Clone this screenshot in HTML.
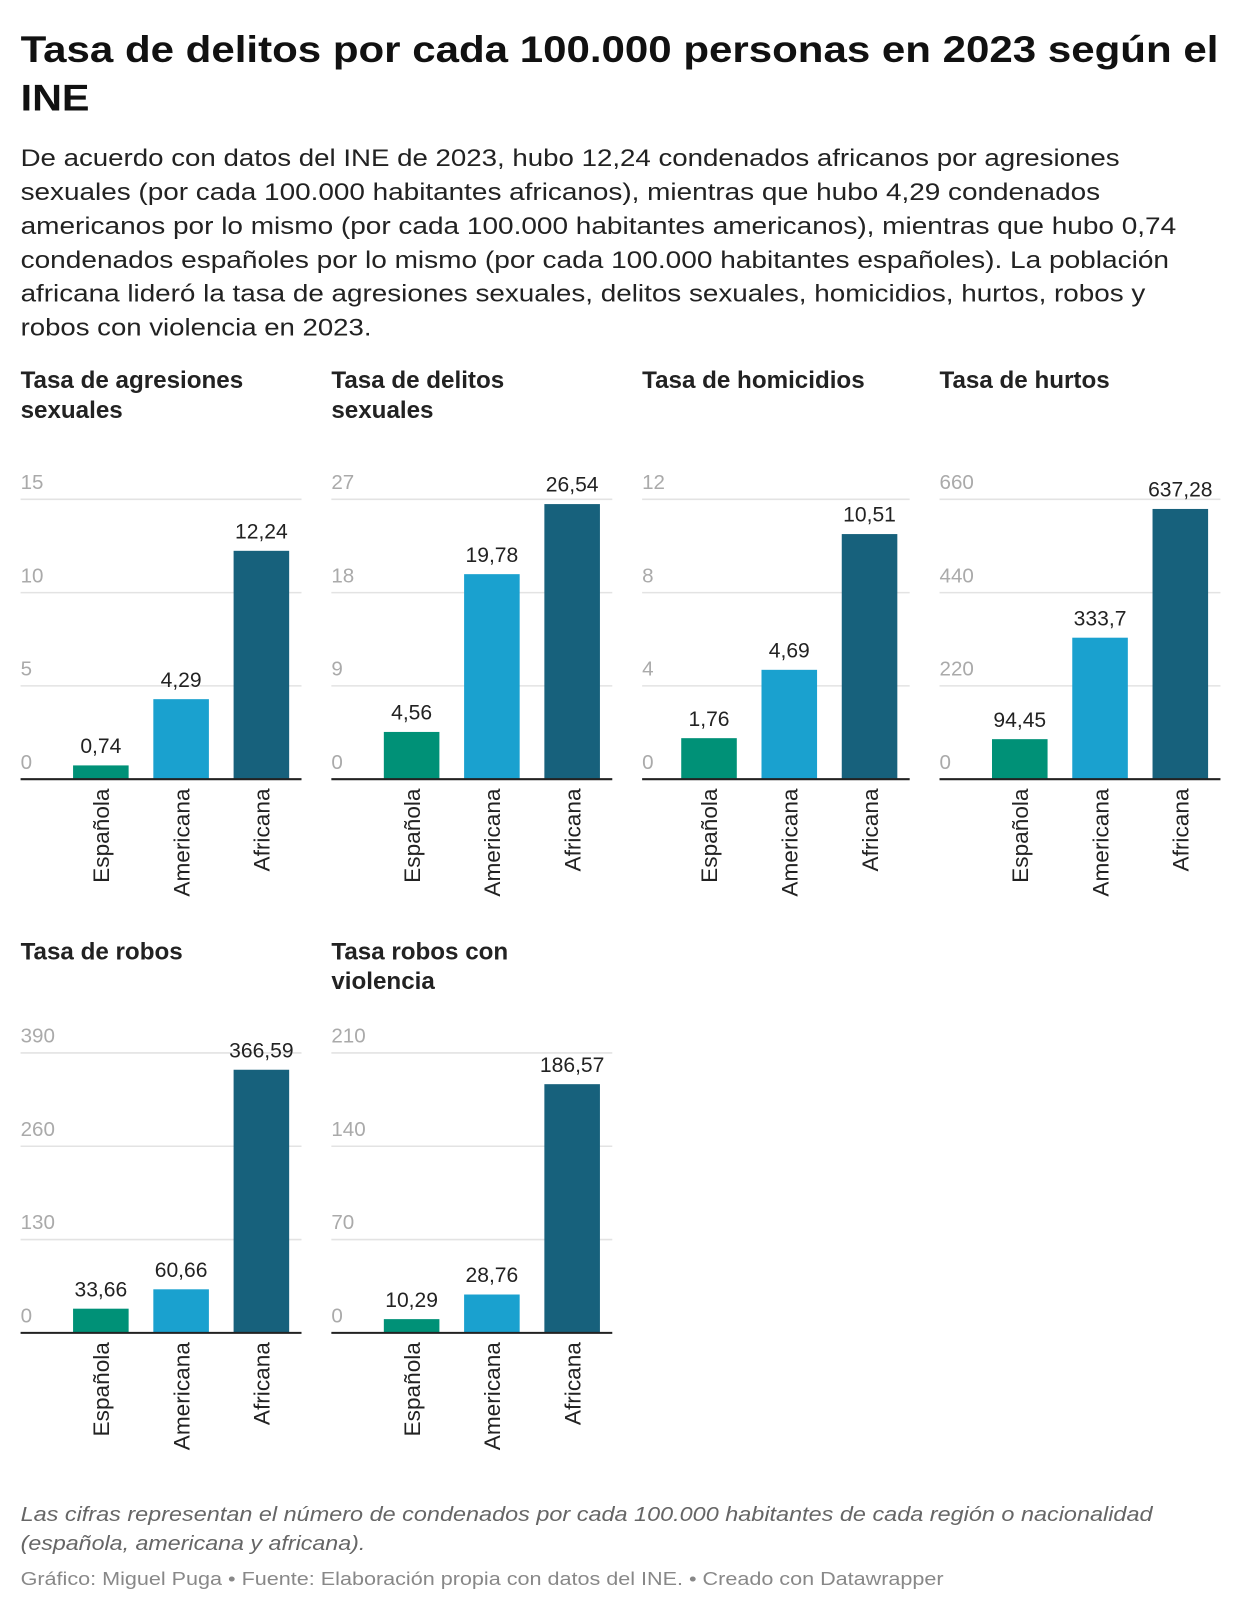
<!DOCTYPE html>
<html><head><meta charset="utf-8">
<style>
html,body{margin:0;padding:0;background:#fff;width:1240px;height:1614px;overflow:hidden}
svg{display:block;font-family:"Liberation Sans",sans-serif}
</style></head>
<body>
<svg id="root" width="1240" height="1614" viewBox="0 0 1205 1568" xmlns="http://www.w3.org/2000/svg">
<g>
<text x="20" y="60" font-size="36" font-weight="bold" fill="#111" textLength="1164" lengthAdjust="spacingAndGlyphs">Tasa de delitos por cada 100.000 personas en 2023 según el</text>
<text x="20" y="107" font-size="36" font-weight="bold" fill="#111" textLength="67" lengthAdjust="spacingAndGlyphs">INE</text>
<g font-size="23.5" fill="#222">
<text x="20" y="161" textLength="1068" lengthAdjust="spacingAndGlyphs">De acuerdo con datos del INE de 2023, hubo 12,24 condenados africanos por agresiones</text>
<text x="20" y="194" textLength="1049" lengthAdjust="spacingAndGlyphs">sexuales (por cada 100.000 habitantes africanos), mientras que hubo 4,29 condenados</text>
<text x="20" y="227" textLength="1123" lengthAdjust="spacingAndGlyphs">americanos por lo mismo (por cada 100.000 habitantes americanos), mientras que hubo 0,74</text>
<text x="20" y="260" textLength="1116" lengthAdjust="spacingAndGlyphs">condenados españoles por lo mismo (por cada 100.000 habitantes españoles). La población</text>
<text x="20" y="293" textLength="1093" lengthAdjust="spacingAndGlyphs">africana lideró la tasa de agresiones sexuales, delitos sexuales, homicidios, hurtos, robos y</text>
<text x="20" y="326" textLength="341" lengthAdjust="spacingAndGlyphs">robos con violencia en 2023.</text>
</g>
</g>
<g id="charts"></g>
<g>
<text x="20" y="1478" font-size="20" font-style="italic" fill="#666" textLength="1100" lengthAdjust="spacingAndGlyphs">Las cifras representan el número de condenados por cada 100.000 habitantes de cada región o nacionalidad</text>
<text x="20" y="1506" font-size="20" font-style="italic" fill="#666" textLength="335" lengthAdjust="spacingAndGlyphs">(española, americana y africana).</text>
<text x="20" y="1540" font-size="18" fill="#888" textLength="897" lengthAdjust="spacingAndGlyphs">Gráfico: Miguel Puga • Fuente: Elaboración propia con datos del INE. • Creado con Datawrapper</text>
</g>
</svg>
<script>
const categories = ["Española", "Americana", "Africana"];
const chartTitles = [["Tasa de agresiones","sexuales"],["Tasa de delitos","sexuales"],["Tasa de homicidios"],["Tasa de hurtos"],["Tasa de robos"],["Tasa robos con","violencia"]];
const valuesAgresiones = [0.74, 4.29, 12.24];
const valuesDelitos = [4.56, 19.78, 26.54];
const valuesHomicidios = [1.76, 4.69, 10.51];
const valuesHurtos = [94.45, 333.7, 637.28];
const valuesRobos = [33.66, 60.66, 366.59];
const valuesRobosViolencia = [10.29, 28.76, 186.57];
const ticksAgresiones = [0, 5, 10, 15];
const ticksDelitos = [0, 9, 18, 27];
const ticksHomicidios = [0, 4, 8, 12];
const ticksHurtos = [0, 220, 440, 660];
const ticksRobos = [0, 130, 260, 390];
const ticksRobosViolencia = [0, 70, 140, 210];

const series = [valuesAgresiones, valuesDelitos, valuesHomicidios, valuesHurtos, valuesRobos, valuesRobosViolencia];
const tickSets = [ticksAgresiones, ticksDelitos, ticksHomicidios, ticksHurtos, ticksRobos, ticksRobosViolencia];
const names = ["agresiones-sexuales","delitos-sexuales","homicidios","hurtos","robos","robos-violencia"];
const layout = [
  {x:20, w:273, off:51, row:0},{x:322, w:273, off:51, row:0},{x:624, w:260, off:38, row:0},
  {x:913, w:273, off:51, row:0},{x:20, w:273, off:51, row:1},{x:322, w:273, off:51, row:1}];
const rows = [{titleY:377, base:757, top:485},{titleY:932, base:1295, top:1023}];
const colors = ["#009177","#1aa1cf","#17617c"];
const NS = "http://www.w3.org/2000/svg";
const root = document.getElementById("charts");
function mk(tag, attrs, parent){const e=document.createElementNS(NS,tag);for(const k in attrs)e.setAttribute(k,attrs[k]);parent.appendChild(e);return e;}
function fmt(v){return String(v).replace(".",",");}

series.forEach((vals, i) => {
  const L = layout[i], R = rows[L.row], ticks = tickSets[i];
  const maxT = ticks[ticks.length-1];
  const y = v => R.base - (R.base - R.top) * v / maxT;
  const g = mk("g", {}, root);
  
  
  chartTitles[i].forEach((t, k) => {
    const tt = mk("text", {x:L.x, y:R.titleY + k*29, "font-size":23.5, "font-weight":"bold", fill:"#222"}, g);
    
    
    tt.textContent = t;
  });
  ticks.forEach(t => {
    if (t !== 0) {
      const gl = mk("line", {x1:L.x, x2:L.x+L.w, y1:y(t), y2:y(t), stroke:"#e3e3e3", "stroke-width":1.5}, g);
      
      
    }
    const tl = mk("text", {x:L.x, y:y(t)-10, "font-size":20, fill:"#aaa"}, g);
    
    
    tl.textContent = t;
  });
  vals.forEach((v, j) => {
    const bx = L.x + L.off + j*78, bw = 54, cx = bx + bw/2;
    const r = mk("rect", {x:bx, y:y(v), width:bw, height:R.base - y(v), fill:colors[j]}, g);
    
    
    const vl = mk("text", {x:cx, y:y(v)-12, "font-size":20.5, fill:"#222", "text-anchor":"middle"}, g);
    
    
    vl.textContent = fmt(v);
    const cl = mk("text", {x:0, y:0, "font-size":22, fill:"#222", "text-anchor":"end", transform:"translate(" + (cx+8) + "," + (R.base+9) + ") rotate(-90)"}, g);
    
    
    cl.textContent = categories[j];
  });
  const ax = mk("line", {x1:L.x, x2:L.x+L.w, y1:R.base, y2:R.base, stroke:"#222", "stroke-width":2}, g);
  
  
});
</script>
</body></html>
